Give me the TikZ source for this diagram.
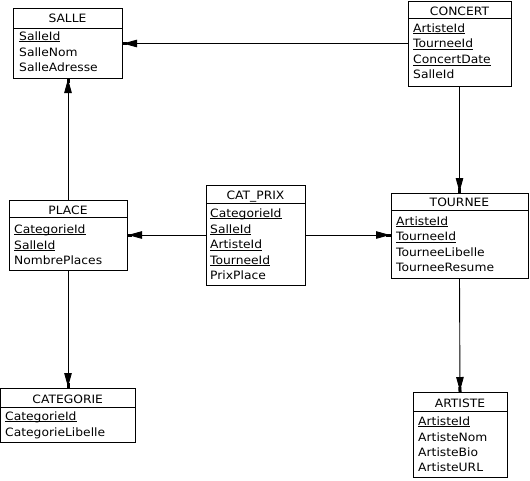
\documentclass[tikz,border=0pt]{standalone}
\usepackage{fontspec}
\setmainfont[FakeStretch=1.07]{DejaVu Sans}
\newcommand{\ukey}[1]{\setbox0\hbox{#1}\rlap{\vrule height -1.2pt depth 2.1pt width \wd0}\box0}
\usetikzlibrary{arrows.meta}
\tikzset{
  tbl/.style={draw=black, line width=0.9pt, inner sep=0pt, outer sep=0pt, fill=white},
  sepline/.style={draw=black, line width=0.9pt},
  hdr/.style={anchor=base, inner sep=0pt, font=\fontsize{11.5}{13}\selectfont},
  fld/.style={anchor=base west, inner sep=0pt, font=\fontsize{11.5}{13}\selectfont},
  fk/.style={draw=black, line width=0.9pt,
    -{Triangle[length=14pt,width=7.5pt,sep=-4pt]Rectangle[length=5pt,width=3pt,sep=0pt]}},
}
\begin{document}
\begin{tikzpicture}[x=1pt,y=-1pt]
\useasboundingbox[fill=white] (0,0) rectangle (530,480);
% SALLE
\node[tbl, minimum width=109pt, minimum height=70pt] (salle) at (67.5,43) {};
\draw[sepline] (salle.west |- 0,28) -- (salle.east |- 0,28);
\node[hdr] (salleH) at (67.5,22.5) {SALLE};
\node[fld] (salle1) at (19,40) {\ukey{SalleId}};
\node[fld] (salle2) at (19,56) {SalleNom};
\node[fld] (salle3) at (19,71) {SalleAdresse};
% CONCERT
\node[tbl, minimum width=103pt, minimum height=85pt] (concert) at (459.5,43.5) {};
\draw[sepline] (concert.west |- 0,18) -- (concert.east |- 0,18);
\node[hdr] (concertH) at (459.5,15) {CONCERT};
\node[fld] (concert1) at (413,32) {\ukey{ArtisteId}};
\node[fld] (concert2) at (413,47.5) {\ukey{TourneeId}};
\node[fld] (concert3) at (413,63.5) {\ukey{ConcertDate}};
\node[fld] (concert4) at (413,78.5) {SalleId};
% PLACE
\node[tbl, minimum width=118pt, minimum height=70pt] (place) at (68,235) {};
\draw[sepline] (place.west |- 0,217) -- (place.east |- 0,217);
\node[hdr] (placeH) at (68,214) {PLACE};
\node[fld] (place1) at (14,233) {\ukey{CategorieId}};
\node[fld] (place2) at (14,249) {\ukey{SalleId}};
\node[fld] (place3) at (14,264) {NombrePlaces};
% CAT_PRIX
\node[tbl, minimum width=99pt, minimum height=100pt] (catprix) at (255.5,235) {};
\draw[sepline] (catprix.west |- 0,203) -- (catprix.east |- 0,203);
\node[hdr] (catprixH) at (255.5,199.5) {CAT\_PRIX};
\node[fld] (catprix1) at (210,217) {\ukey{CategorieId}};
\node[fld] (catprix2) at (210,233) {\ukey{SalleId}};
\node[fld] (catprix3) at (210,248.5) {\ukey{ArtisteId}};
\node[fld] (catprix4) at (210,264) {\ukey{TourneeId}};
\node[fld] (catprix5) at (210,279.5) {PrixPlace};
% TOURNEE
\node[tbl, minimum width=137pt, minimum height=85pt] (tournee) at (459.5,235.5) {};
\draw[sepline] (tournee.west |- 0,210) -- (tournee.east |- 0,210);
\node[hdr] (tourneeH) at (459.5,206.5) {TOURNEE};
\node[fld] (tournee1) at (396,225) {\ukey{ArtisteId}};
\node[fld] (tournee2) at (396,240.5) {\ukey{TourneeId}};
\node[fld] (tournee3) at (396,256) {TourneeLibelle};
\node[fld] (tournee4) at (396,271) {TourneeResume};
% CATEGORIE
\node[tbl, minimum width=134.5pt, minimum height=54pt] (categorie) at (67.75,415) {};
\draw[sepline] (categorie.west |- 0,407) -- (categorie.east |- 0,407);
\node[hdr] (categorieH) at (67.75,403) {CATEGORIE};
\node[fld] (categorie1) at (5,420) {\ukey{CategorieId}};
\node[fld] (categorie2) at (5,436) {CategorieLibelle};
% ARTISTE
\node[tbl, minimum width=94pt, minimum height=85pt] (artiste) at (460,434.5) {};
\draw[sepline] (artiste.west |- 0,411) -- (artiste.east |- 0,411);
\node[hdr] (artisteH) at (460,407.5) {ARTISTE};
\node[fld] (artiste1) at (418,425) {\ukey{ArtisteId}};
\node[fld] (artiste2) at (418,441) {ArtisteNom};
\node[fld] (artiste3) at (418,456) {ArtisteBio};
\node[fld] (artiste4) at (418,471) {ArtisteURL};
% connectors
\draw[fk] (concert.west) -- (salle.east |- concert.west);
\draw[fk] (place.north) -- (salle.south -| place.north);
\draw[fk] (concert.south) -- (tournee.north);
\draw[fk] (catprix.west) -- (place.east |- catprix.west);
\draw[fk] (catprix.east) -- (tournee.west |- catprix.east);
\draw[fk] (place.south) -- (categorie.north -| place.south);
\draw[fk] (tournee.south) -- (artiste.north);
\end{tikzpicture}
\end{document}
